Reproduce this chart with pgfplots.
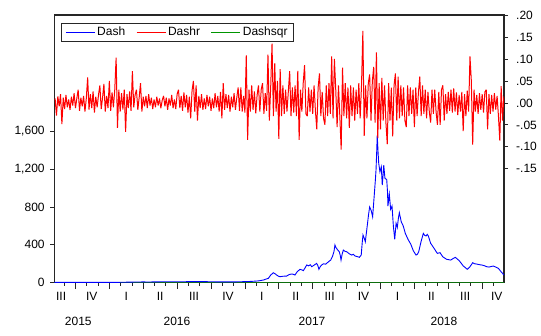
\documentclass[border=0pt]{standalone}
\usepackage{fontspec}
\setmainfont{Liberation Sans}
\usepackage{pgfplots}
\pgfplotsset{compat=1.18}
\definecolor{dgreen}{RGB}{0,150,0}
\begin{document}
\fontsize{12}{14}\selectfont
\begin{tikzpicture}
\path[use as bounding box] (0,0) rectangle (541pt,336pt);
\pgfplotsset{
  common/.style={
    at={(54.3pt,53.3pt)}, anchor=south west, scale only axis,
    width=449.7pt, height=267.7pt,
    xmin=2015.594, xmax=2018.911,
    font=\fontsize{12}{14}\selectfont,
    tick align=outside,
  }
}
% ---------- left axis: Dash, Dashsqr ----------
\begin{axis}[common, ymin=0, ymax=2827,
  axis line style={black!85, line width=1.2pt},
  tick pos=left,
  major tick length=4pt, minor tick length=3.3pt,
  tick style={black!85, line width=0.8pt},
  ytick={0,400,800,1200,1600},
  yticklabels={0,400,800,{1,200},{1,600}},
  yticklabel style={xshift=-1.5pt},
  xtick={2015.644,2015.87,2016.125,2016.375,2016.625,2016.875,2017.125,2017.375,2017.625,2017.875,2018.125,2018.375,2018.625,2018.857},
  xticklabels={III,IV,I,II,III,IV,I,II,III,IV,I,II,III,IV},
  major x tick style={draw=none},
  xticklabel style={yshift=-1.5pt},
  minor xtick={2015.6667,2015.8333,2015.9167,2016.0833,2016.1667,2016.3333,2016.4167,2016.5833,2016.6667,2016.8333,2016.9167,2017.0833,2017.1667,2017.3333,2017.4167,2017.5833,2017.6667,2017.8333,2017.9167,2018.0833,2018.1667,2018.3333,2018.4167,2018.5833,2018.6667,2018.8333},
]
\addplot[dgreen, line width=0.8pt] coordinates {
(2015.594,0.0001)(2016.05,0.0106)(2016.5,0.0002)(2017.0,0.0005)(2017.2,0.0182)(2017.5,0.0009)(2017.87,0.0269)(2018.0,0.0036)(2018.5,0.0006)(2018.911,0.0002)};
\addplot[blue, line width=0.9pt] coordinates {
(2015.594,3.6)(2015.65,3.3)(2015.70,3.1)(2015.75,2.8)(2015.80,3.0)(2015.85,3.3)(2015.90,3.6)(2015.95,3.2)
(2016.00,3.4)(2016.05,3.8)(2016.10,4.5)(2016.15,6)(2016.20,7.5)(2016.25,8)(2016.30,7.5)(2016.35,9)
(2016.40,10)(2016.45,10.5)(2016.50,9.5)(2016.55,10)(2016.60,11.5)(2016.65,12)(2016.70,11)(2016.75,10)
(2016.80,9)(2016.85,8.5)(2016.90,8.5)(2016.964,10)(2017.00,11)(2017.05,14)(2017.10,19)(2017.136,28)
(2017.155,38)(2017.173,46)(2017.19,80)(2017.209,105)(2017.222,95)(2017.234,81)(2017.245,70)(2017.259,63)
(2017.28,68)(2017.308,70)(2017.325,85)(2017.345,92)(2017.358,88)(2017.369,81)(2017.385,115)(2017.406,141)
(2017.42,135)(2017.431,127)(2017.445,160)(2017.456,187)(2017.47,178)(2017.482,190)(2017.493,169)(2017.51,185)
(2017.529,204)(2017.538,180)(2017.546,141)(2017.556,170)(2017.566,187)(2017.58,200)(2017.595,195)(2017.608,211)
(2017.62,225)(2017.633,239)(2017.647,282)(2017.657,330)(2017.664,398)(2017.672,370)(2017.681,352)(2017.696,327)
(2017.703,290)(2017.709,239)(2017.717,300)(2017.726,345)(2017.74,330)(2017.751,327)(2017.77,305)(2017.788,292)
(2017.80,300)(2017.812,282)(2017.83,275)(2017.844,268)(2017.858,292)(2017.865,420)(2017.871,503)(2017.88,470)
(2017.888,433)(2017.903,609)(2017.912,720)(2017.920,800)(2017.932,760)(2017.942,696)(2017.954,925)(2017.962,1080)
(2017.967,1189)(2017.972,1380)(2017.976,1558)(2017.982,1380)(2017.987,1260)(2017.996,1171)(2018.006,1224)(2018.013,1031)
(2018.02,1150)(2018.024,1242)(2018.033,1101)(2018.046,1090)(2018.052,950)(2018.055,809)(2018.065,936)(2018.075,774)
(2018.085,809)(2018.095,598)(2018.105,458)(2018.115,627)(2018.124,584)(2018.132,680)(2018.139,739)(2018.153,644)
(2018.168,598)(2018.183,521)(2018.203,458)(2018.223,408)(2018.242,338)(2018.262,292)(2018.272,300)(2018.282,327)
(2018.299,433)(2018.316,521)(2018.326,500)(2018.336,493)(2018.345,510)(2018.353,493)(2018.370,416)(2018.395,363)
(2018.419,310)(2018.439,317)(2018.459,274)(2018.488,247)(2018.518,239)(2018.535,255)(2018.552,268)(2018.581,232)
(2018.611,176)(2018.625,160)(2018.640,141)(2018.660,169)(2018.680,211)(2018.695,200)(2018.709,197)(2018.73,190)
(2018.746,187)(2018.765,180)(2018.783,169)(2018.80,165)(2018.832,176)(2018.850,165)(2018.869,152)(2018.89,115)
(2018.911,81)};
\end{axis}
% ---------- right axis: Dashr ----------
\begin{axis}[common, ymin=-0.409, ymax=0.2,
  axis y line*=right, axis x line*=bottom,
  x axis line style={draw=none}, y axis line style={draw=none},
  major tick length=4pt, minor tick length=6.5pt,
  tick style={black!85, line width=0.8pt},
  ytick={-0.15,-0.10,-0.05,0,0.05,0.10,0.15,0.20},
  yticklabels={-.15,-.10,-.05,.00,.05,.10,.15,.20},
  yticklabel style={anchor=west, xshift=4pt},
  xtick={2015.771,2016.499,2017.495,2018.468},
  xticklabels={2015,2016,2017,2018},
  major x tick style={draw=none},
  xticklabel style={yshift=-26.5pt},
  minor xtick={2015.75,2016,2016.25,2016.5,2016.75,2017,2017.25,2017.5,2017.75,2018,2018.25,2018.5,2018.75},
  legend style={at={(0.0149,0.969)}, anchor=north west, legend columns=3,
    draw=black!85, line width=0.9pt, fill=white, inner xsep=4pt, inner ysep=1.5pt,
    font=\fontsize{12}{14}\selectfont,
    /tikz/every even column/.append style={column sep=9pt}},
  legend cell align=left,
  legend image code/.code={\draw[#1, line width=0.8pt] (0pt,0pt) -- (29pt,0pt);},
]
\addlegendimage{blue}
\addlegendentry{Dash}
\addplot[red, line width=1pt, line join=miter, miter limit=2] coordinates {
(2015.60,0.010)(2015.61,-0.029)(2015.62,0.015)(2015.63,-0.008)(2015.64,0.020)(2015.65,-0.048)(2015.66,0.012)(2015.67,-0.014)(2015.68,0.018)(2015.69,-0.010)
(2015.70,0.008)(2015.71,-0.016)(2015.72,0.014)(2015.73,-0.006)(2015.74,0.022)(2015.75,-0.012)(2015.76,0.010)(2015.77,0.030)(2015.78,-0.018)(2015.79,0.012)
(2015.80,-0.008)(2015.81,0.016)(2015.82,-0.020)(2015.83,0.010)(2015.84,0.058)(2015.85,-0.015)(2015.86,0.020)(2015.87,-0.012)(2015.88,0.026)(2015.89,-0.022)
(2015.90,0.014)(2015.91,-0.010)(2015.92,0.018)(2015.93,0.040)(2015.94,-0.014)(2015.95,0.012)(2015.96,0.043)(2015.97,-0.020)(2015.98,0.016)(2015.99,-0.012)
(2016.00,0.050)(2016.01,-0.018)(2016.02,0.024)(2016.03,-0.010)(2016.04,0.030)(2016.05,0.103)(2016.06,-0.057)(2016.07,0.030)(2016.08,-0.020)(2016.09,0.022)
(2016.10,-0.015)(2016.11,0.030)(2016.12,-0.066)(2016.13,0.020)(2016.14,-0.012)(2016.15,0.026)(2016.16,-0.018)(2016.17,0.072)(2016.18,-0.010)(2016.19,0.018)
(2016.20,0.030)(2016.21,-0.016)(2016.22,0.012)(2016.23,0.045)(2016.24,-0.020)(2016.25,0.014)(2016.26,-0.008)(2016.27,0.016)(2016.28,-0.012)(2016.29,0.020)
(2016.30,-0.006)(2016.31,0.012)(2016.32,-0.014)(2016.33,0.008)(2016.34,-0.010)(2016.35,0.014)(2016.36,-0.006)(2016.37,0.010)(2016.38,-0.012)(2016.39,0.006)
(2016.40,0.016)(2016.41,-0.008)(2016.42,0.012)(2016.43,-0.016)(2016.44,0.010)(2016.45,-0.006)(2016.46,0.018)(2016.47,-0.012)(2016.48,0.008)(2016.49,-0.014)
(2016.50,0.020)(2016.51,0.030)(2016.52,-0.012)(2016.53,0.016)(2016.54,-0.018)(2016.55,0.024)(2016.56,-0.010)(2016.57,0.018)(2016.58,-0.022)(2016.59,0.014)
(2016.60,-0.035)(2016.61,0.028)(2016.62,0.050)(2016.63,-0.020)(2016.64,0.040)(2016.65,-0.040)(2016.66,0.016)(2016.67,-0.012)(2016.68,0.020)(2016.69,-0.016)
(2016.70,0.010)(2016.71,-0.014)(2016.72,0.018)(2016.73,-0.008)(2016.74,0.014)(2016.75,-0.018)(2016.76,0.010)(2016.77,-0.012)(2016.78,0.022)(2016.79,-0.010)
(2016.80,0.016)(2016.81,-0.020)(2016.82,0.025)(2016.83,-0.035)(2016.84,0.045)(2016.85,-0.016)(2016.86,0.020)(2016.87,-0.012)(2016.88,0.018)(2016.89,-0.020)
(2016.90,0.014)(2016.91,-0.010)(2016.92,0.022)(2016.93,-0.016)(2016.94,0.012)(2016.95,0.035)(2016.96,-0.018)(2016.97,0.035)(2016.98,-0.020)(2016.99,0.016)
(2017.00,-0.022)(2017.01,0.108)(2017.02,-0.084)(2017.03,0.030)(2017.04,-0.020)(2017.05,0.040)(2017.06,-0.016)(2017.07,0.026)(2017.08,-0.024)(2017.09,0.018)
(2017.10,0.040)(2017.11,-0.020)(2017.12,0.030)(2017.13,0.045)(2017.14,-0.025)(2017.15,0.022)(2017.16,-0.018)(2017.17,0.110)(2017.18,-0.040)(2017.19,0.035)
(2017.20,0.135)(2017.21,-0.030)(2017.22,0.090)(2017.23,-0.020)(2017.24,0.050)(2017.25,-0.082)(2017.26,0.077)(2017.27,-0.030)(2017.28,0.040)(2017.29,-0.025)
(2017.30,0.030)(2017.31,-0.020)(2017.32,0.025)(2017.33,0.072)(2017.34,-0.030)(2017.35,0.035)(2017.36,-0.022)(2017.37,0.040)(2017.38,-0.030)(2017.39,0.073)
(2017.40,-0.084)(2017.41,0.030)(2017.42,-0.020)(2017.43,0.045)(2017.44,0.086)(2017.45,-0.025)(2017.46,-0.030)(2017.47,0.035)(2017.48,-0.020)(2017.49,0.030)
(2017.50,-0.025)(2017.51,0.040)(2017.52,-0.018)(2017.53,-0.060)(2017.54,0.035)(2017.55,0.067)(2017.56,-0.030)(2017.57,0.025)(2017.58,-0.035)(2017.59,-0.050)
(2017.60,0.040)(2017.61,-0.030)(2017.62,0.045)(2017.63,-0.025)(2017.64,0.106)(2017.65,-0.035)(2017.66,0.100)(2017.67,0.030)(2017.68,-0.055)(2017.69,0.040)
(2017.70,-0.030)(2017.71,-0.106)(2017.72,0.080)(2017.73,-0.030)(2017.74,0.045)(2017.75,-0.035)(2017.76,0.035)(2017.77,-0.057)(2017.78,0.040)(2017.79,-0.030)
(2017.80,0.035)(2017.81,-0.040)(2017.82,0.030)(2017.83,-0.025)(2017.84,0.045)(2017.85,-0.035)(2017.86,0.040)(2017.87,0.164)(2017.88,-0.075)(2017.89,0.040)
(2017.90,-0.035)(2017.91,0.045)(2017.92,0.065)(2017.93,-0.040)(2017.94,0.050)(2017.95,0.082)(2017.96,-0.045)(2017.97,0.115)(2017.98,-0.080)(2017.99,0.045)
(2018.00,-0.060)(2018.01,0.057)(2018.02,-0.040)(2018.03,0.040)(2018.04,-0.045)(2018.05,-0.094)(2018.06,0.045)(2018.07,-0.040)(2018.08,0.035)(2018.09,-0.076)
(2018.10,0.040)(2018.11,0.067)(2018.12,-0.040)(2018.13,0.060)(2018.14,-0.035)(2018.15,0.040)(2018.16,-0.030)(2018.17,0.035)(2018.18,-0.040)(2018.19,-0.055)
(2018.20,0.040)(2018.21,-0.030)(2018.22,0.035)(2018.23,-0.025)(2018.24,0.030)(2018.25,-0.055)(2018.26,0.035)(2018.27,-0.030)(2018.28,0.025)(2018.29,0.060)
(2018.30,-0.030)(2018.31,0.040)(2018.32,-0.025)(2018.33,0.030)(2018.34,-0.035)(2018.35,0.025)(2018.36,-0.020)(2018.37,-0.045)(2018.38,0.030)(2018.39,-0.025)
(2018.40,0.030)(2018.41,-0.020)(2018.42,-0.050)(2018.43,0.025)(2018.44,-0.050)(2018.45,0.030)(2018.46,0.040)(2018.47,-0.040)(2018.48,0.020)(2018.49,-0.025)
(2018.50,0.025)(2018.51,-0.018)(2018.52,0.030)(2018.53,-0.022)(2018.54,0.033)(2018.55,-0.020)(2018.56,0.024)(2018.57,-0.028)(2018.58,0.018)(2018.59,-0.020)
(2018.60,0.025)(2018.61,-0.064)(2018.62,0.020)(2018.63,-0.030)(2018.64,0.028)(2018.65,-0.020)(2018.66,0.106)(2018.67,0.050)(2018.68,-0.095)(2018.69,0.030)
(2018.70,-0.020)(2018.71,0.018)(2018.72,-0.025)(2018.73,0.022)(2018.74,-0.016)(2018.75,0.020)(2018.76,-0.022)(2018.77,0.025)(2018.78,0.030)(2018.79,-0.060)
(2018.80,0.020)(2018.81,-0.025)(2018.82,0.018)(2018.83,-0.020)(2018.84,0.022)(2018.85,-0.015)(2018.86,0.016)(2018.87,-0.030)(2018.88,-0.086)(2018.89,0.038)
(2018.90,-0.040)(2018.91,0.015)};
\addlegendentry{Dashr}
\addlegendimage{dgreen}
\addlegendentry{Dashsqr}
\end{axis}
\end{tikzpicture}
\end{document}
